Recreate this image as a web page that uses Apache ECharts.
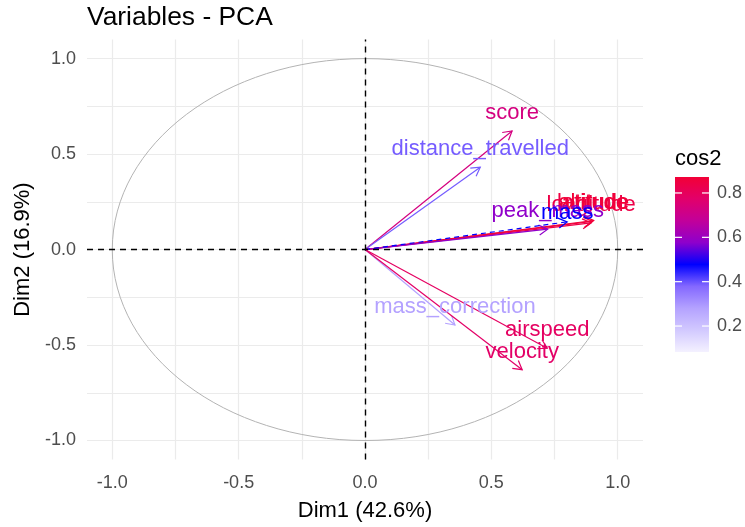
<!DOCTYPE html>
<html><head><meta charset="utf-8">
<script src="https://cdn.jsdelivr.net/npm/echarts@6/dist/echarts.min.js"></script>
<style>html,body{margin:0;padding:0;background:#fff}#c{width:745px;height:527px}</style>
</head><body><div id="c"></div>
<script>
// Active variables (coloured by cos2)
const VAR_NAMES = ['score','distance_travelled','latitude','longitude','altitude','peak_mass','mass_correction','airspeed','velocity'];
const DIM1 = [0.582, 0.456, 0.900, 0.895, 0.905, 0.723, 0.356, 0.721, 0.622];
const DIM2 = [0.621, 0.431, 0.148, 0.140, 0.152, 0.107, -0.395, -0.517, -0.629];
const COS2 = [0.73, 0.39, 0.85, 0.84, 0.87, 0.58, 0.28, 0.79, 0.78];
// Supplementary variable (drawn blue, dashed)
const SUP_NAMES = ['mass'];
const SUP_DIM1 = [0.80];
const SUP_DIM2 = [0.145];
// Axes / legend
const AXIS_TICKS = [-1, -0.5, 0, 0.5, 1];
const GRID_TICKS = [-1, -0.75, -0.5, -0.25, 0, 0.25, 0.5, 0.75, 1];
const AXIS_RANGE = [-1.1, 1.1];
const LEGEND_RANGE = [0.083, 0.872];
const LEGEND_TICKS = [0.2, 0.4, 0.6, 0.8];
const COLOR_STOPS = ['#F4F1FF','#D2C9FF','#B4A2FF','#8468FF','#0000FF','#8E00CC','#C2009A','#E2006A','#F20036'];

const FONT = '"Liberation Sans", Arial, sans-serif';
const chart = echarts.init(document.getElementById('c'), null, {renderer: 'canvas'});

const activeData = VAR_NAMES.map((n, i) => [DIM1[i], DIM2[i], COS2[i], n]);
const supData = SUP_NAMES.map((n, i) => [SUP_DIM1[i], SUP_DIM2[i], 0, n]);

function arrowItem(api, color, dash) {
  const p0 = api.coord([0, 0]);
  const p1 = api.coord([api.value(0), api.value(1)]);
  const ang = Math.atan2(p1[1] - p0[1], p1[0] - p0[0]);
  const L = 10, a = Math.PI / 6;
  const h1 = [p1[0] - L * Math.cos(ang - a), p1[1] - L * Math.sin(ang - a)];
  const h2 = [p1[0] - L * Math.cos(ang + a), p1[1] - L * Math.sin(ang + a)];
  return {type: 'group', children: [
    {type: 'line', shape: {x1: p0[0], y1: p0[1], x2: p1[0], y2: p1[1]},
     style: {stroke: color, lineWidth: 1.2, lineDash: dash || null}},
    {type: 'polyline', shape: {points: [h1, p1, h2]},
     style: {stroke: color, lineWidth: 1.2, fill: null}}
  ]};
}
function labelItem(api, color, off) {
  const p1 = api.coord([api.value(0), api.value(1)]);
  return {type: 'text', x: p1[0], y: p1[1] - off,
    style: {text: api.value(3), fill: color, font: '22px ' + FONT, align: 'center', verticalAlign: 'middle'}};
}

const option = {
  animation: false,
  textStyle: {fontFamily: FONT},
  title: {text: 'Variables - PCA', left: 87, top: 5, padding: 0,
    textStyle: {fontSize: 26.4, fontWeight: 'normal', color: '#000', fontFamily: FONT}},
  grid: [
    {left: 87, right: 102, top: 39.5, bottom: 67.4},
    {left: 675, top: 177, width: 35, height: 175}
  ],
  xAxis: [
    {type: 'value', gridIndex: 0, min: AXIS_RANGE[0], max: AXIS_RANGE[1],
     axisLine: {show: false}, axisTick: {show: false, customValues: GRID_TICKS},
     splitLine: {show: true, lineStyle: {color: '#EBEBEB', width: 1.2}},
     axisLabel: {customValues: AXIS_TICKS, formatter: v => v.toFixed(1), color: '#4D4D4D', fontSize: 18, margin: 14},
     name: 'Dim1 (42.6%)', nameLocation: 'middle', nameGap: 40,
     nameTextStyle: {fontSize: 22, color: '#000'}},
    {type: 'value', gridIndex: 1, min: 0, max: 1, show: false}
  ],
  yAxis: [
    {type: 'value', gridIndex: 0, min: AXIS_RANGE[0], max: AXIS_RANGE[1],
     axisLine: {show: false}, axisTick: {show: false, customValues: GRID_TICKS},
     splitLine: {show: true, lineStyle: {color: '#EBEBEB', width: 1.2}},
     axisLabel: {customValues: AXIS_TICKS, formatter: v => v.toFixed(1), color: '#4D4D4D', fontSize: 18, margin: 11},
     name: 'Dim2 (16.9%)', nameLocation: 'middle', nameGap: 53,
     nameTextStyle: {fontSize: 22, color: '#000'}},
    {type: 'value', gridIndex: 1, min: LEGEND_RANGE[0], max: LEGEND_RANGE[1], position: 'right',
     axisLine: {show: false}, axisTick: {show: false}, splitLine: {show: false},
     axisLabel: {customValues: LEGEND_TICKS, formatter: v => v.toFixed(1), color: '#4D4D4D', fontSize: 18, margin: 8}}
  ],
  visualMap: {
    type: 'continuous', show: false, dimension: 2, seriesIndex: [1, 2],
    min: LEGEND_RANGE[0], max: LEGEND_RANGE[1], inRange: {color: COLOR_STOPS}
  },
  graphic: [
    {type: 'text', left: 675, top: 148, style: {text: 'cos2', font: '22px ' + FONT, fill: '#000'}}
  ],
  series: [
    { // correlation circle + zero lines
      type: 'custom', xAxisIndex: 0, yAxisIndex: 0, silent: true, data: [[0, 0]],
      renderItem: (params, api) => {
        const c = api.coord([0, 0]);
        const s = api.size([1, 1]);
        return {type: 'ellipse', shape: {cx: c[0], cy: c[1], rx: s[0], ry: s[1]},
          style: {stroke: '#B3B3B3', fill: null, lineWidth: 1}};
      },
      markLine: {silent: true, symbol: 'none', label: {show: false},
        lineStyle: {color: '#000', type: [6, 5], width: 1.4},
        data: [{xAxis: 0}, {yAxis: 0}]}
    },
    { // active arrows
      type: 'custom', xAxisIndex: 0, yAxisIndex: 0, silent: true, data: activeData,
      encode: {x: 0, y: 1},
      renderItem: (params, api) => arrowItem(api, api.visual('color'))
    },
    { // active labels
      type: 'custom', xAxisIndex: 0, yAxisIndex: 0, silent: true, data: activeData,
      encode: {x: 0, y: 1},
      renderItem: (params, api) => labelItem(api, api.visual('color'), 18)
    },
    { // supplementary arrow
      type: 'custom', xAxisIndex: 0, yAxisIndex: 0, silent: true, data: supData,
      encode: {x: 0, y: 1},
      renderItem: (params, api) => arrowItem(api, '#0000FF', [5, 4])
    },
    { // supplementary label
      type: 'custom', xAxisIndex: 0, yAxisIndex: 0, silent: true, data: supData,
      encode: {x: 0, y: 1},
      renderItem: (params, api) => labelItem(api, '#0000FF', 9)
    },
    { // colour bar legend
      type: 'custom', xAxisIndex: 1, yAxisIndex: 1, silent: true, data: [[0]],
      renderItem: (params, api) => {
        const tl = api.coord([0, LEGEND_RANGE[1]]);
        const br = api.coord([1, LEGEND_RANGE[0]]);
        const n = COLOR_STOPS.length;
        const children = [{type: 'rect', shape: {x: tl[0], y: tl[1], width: br[0] - tl[0], height: br[1] - tl[1]},
          style: {fill: {type: 'linear', x: 0, y: 1, x2: 0, y2: 0,
            colorStops: COLOR_STOPS.map((c, i) => ({offset: i / (n - 1), color: c}))}}}];
        LEGEND_TICKS.forEach(v => {
          const y = api.coord([0, v])[1];
          children.push({type: 'line', shape: {x1: tl[0], y1: y, x2: tl[0] + 7, y2: y}, style: {stroke: '#fff', lineWidth: 1.2}});
          children.push({type: 'line', shape: {x1: br[0] - 7, y1: y, x2: br[0], y2: y}, style: {stroke: '#fff', lineWidth: 1.2}});
        });
        return {type: 'group', children};
      }
    }
  ]
};
chart.setOption(option);
</script>
</body></html>
